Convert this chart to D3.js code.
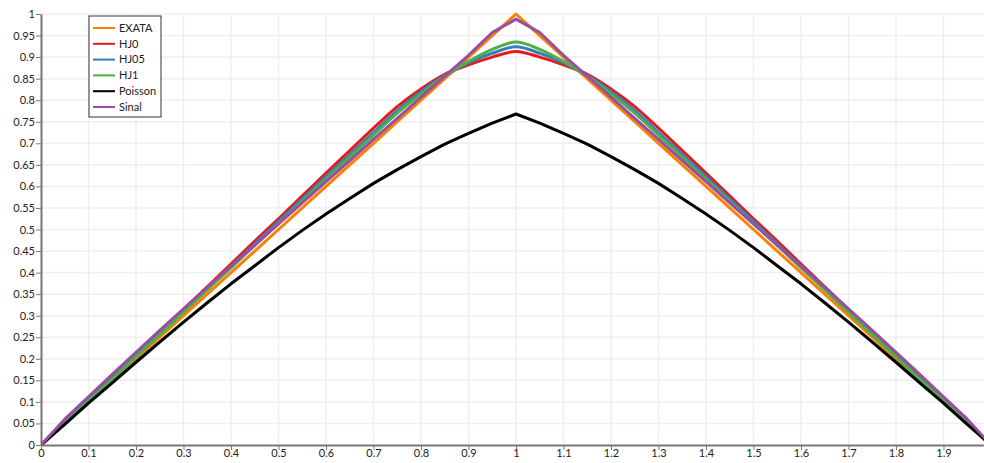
<!DOCTYPE html>
<html>
<head>
<meta charset="utf-8">
<script src="https://cdn.jsdelivr.net/npm/d3@7"></script>
<style>
  html, body { margin: 0; padding: 0; background: #fff; }
  #chart { width: 984px; height: 463px; }
  text { font-family: "Lato", "Open Sans", sans-serif; font-size: 11px; fill: #222; }
</style>
</head>
<body>
<div id="chart"></div>
<script>
// x positions of the samples
const xs = [0, 0.05, 0.1, 0.15, 0.2, 0.25, 0.3, 0.35, 0.4, 0.45, 0.5, 0.55, 0.6, 0.65, 0.7, 0.75, 0.8, 0.85, 0.9, 0.95,
            1, 1.05, 1.1, 1.15, 1.2, 1.25, 1.3, 1.35, 1.4, 1.45, 1.5, 1.55, 1.6, 1.65, 1.7, 1.75, 1.8, 1.85, 1.9, 1.95, 2];

const exata = [0, 0.05, 0.1, 0.15, 0.2, 0.25, 0.3, 0.35, 0.4, 0.45, 0.5, 0.55, 0.6, 0.65, 0.7, 0.75, 0.8, 0.85, 0.9, 0.95,
               1, 0.95, 0.9, 0.85, 0.8, 0.75, 0.7, 0.65, 0.6, 0.55, 0.5, 0.45, 0.4, 0.35, 0.3, 0.25, 0.2, 0.15, 0.1, 0.05, 0];
const hj0 = [0, 0.052, 0.104, 0.156, 0.208, 0.261, 0.314, 0.367, 0.42, 0.473, 0.525, 0.578, 0.631, 0.683, 0.735, 0.785, 0.826, 0.86, 0.882, 0.9,
             0.913, 0.9, 0.882, 0.86, 0.826, 0.785, 0.735, 0.683, 0.631, 0.578, 0.525, 0.473, 0.42, 0.367, 0.314, 0.261, 0.208, 0.156, 0.104, 0.052, 0];
const hj05 = [0, 0.051, 0.103, 0.154, 0.206, 0.258, 0.31, 0.362, 0.415, 0.467, 0.519, 0.571, 0.623, 0.674, 0.725, 0.776, 0.82, 0.857, 0.887, 0.909,
              0.924, 0.909, 0.887, 0.857, 0.82, 0.776, 0.725, 0.674, 0.623, 0.571, 0.519, 0.467, 0.415, 0.362, 0.31, 0.258, 0.206, 0.154, 0.103, 0.051, 0];
const hj1 = [0, 0.051, 0.102, 0.153, 0.205, 0.256, 0.308, 0.36, 0.411, 0.463, 0.514, 0.566, 0.617, 0.668, 0.719, 0.77, 0.815, 0.856, 0.89, 0.918,
             0.935, 0.918, 0.89, 0.856, 0.815, 0.77, 0.719, 0.668, 0.617, 0.566, 0.514, 0.463, 0.411, 0.36, 0.308, 0.256, 0.205, 0.153, 0.102, 0.051, 0];
const poisson = [0, 0.048, 0.097, 0.144, 0.192, 0.239, 0.285, 0.33, 0.374, 0.416, 0.458, 0.498, 0.536, 0.572, 0.607, 0.639, 0.669, 0.698, 0.723, 0.747,
                 0.768, 0.747, 0.723, 0.698, 0.669, 0.639, 0.607, 0.572, 0.536, 0.498, 0.458, 0.416, 0.374, 0.33, 0.285, 0.239, 0.192, 0.144, 0.097, 0.048, 0];
const sinal = [0, 0.06, 0.112, 0.164, 0.215, 0.266, 0.316, 0.366, 0.415, 0.464, 0.513, 0.562, 0.611, 0.66, 0.709, 0.758, 0.807, 0.856, 0.904, 0.957,
               0.988, 0.957, 0.904, 0.856, 0.807, 0.758, 0.709, 0.66, 0.611, 0.562, 0.513, 0.464, 0.415, 0.366, 0.316, 0.266, 0.215, 0.164, 0.112, 0.06, 0];

const seriesNames = ["EXATA", "HJ0", "HJ05", "HJ1", "Poisson", "Sinal"];
const seriesValues = [exata, hj0, hj05, hj1, poisson, sinal];
const colors = ["#ff7f00", "#e41a1c", "#377eb8", "#4daf4a", "#000000", "#984ea3"];
// HJ solutions have rounded tops, the others a sharp corner at x = 1
const smooth = [false, true, true, true, false, false];

const xTicks = d3.range(0, 20).map(i => i / 10);
const yTicks = d3.range(0, 21).map(i => i / 20);

const svgWidth = 984, svgHeight = 463;
const svg = d3.select("#chart").append("svg")
    .attr("width", svgWidth).attr("height", svgHeight);

const margin = {top: 14, left: 41, bottom: 18};
const x = d3.scaleLinear().domain([0, 2]).range([margin.left, margin.left + 950]);
const y = d3.scaleLinear().domain([0, 1]).range([svgHeight - margin.bottom, margin.top]);

// grid
svg.append("g").selectAll("line.v").data(xTicks.slice(1)).join("line")
    .attr("x1", d => x(d)).attr("x2", d => x(d))
    .attr("y1", y(0)).attr("y2", y(1))
    .attr("stroke", "#efefef").attr("stroke-width", 1.5);
svg.append("g").selectAll("line.h").data(yTicks.slice(1)).join("line")
    .attr("x1", x(0)).attr("x2", svgWidth)
    .attr("y1", d => y(d)).attr("y2", d => y(d))
    .attr("stroke", "#efefef").attr("stroke-width", 1.5);

// lines
svg.append("clipPath").attr("id", "clip")
    .append("rect").attr("x", x(0)).attr("y", 0).attr("width", svgWidth - x(0)).attr("height", y(0));

const line = d3.line().x(d => x(d[0])).y(d => y(d[1]));
const curvedLine = d3.line().x(d => x(d[0])).y(d => y(d[1])).curve(d3.curveMonotoneX);
svg.append("g").attr("clip-path", "url(#clip)")
    .selectAll("path").data(seriesValues).join("path")
    .attr("fill", "none")
    .attr("stroke", (d, i) => colors[i])
    .attr("stroke-width", 3)
    .attr("stroke-linejoin", "round")
    .attr("d", (d, i) => (smooth[i] ? curvedLine : line)(xs.map((v, j) => [v, d[j]])));

// axes
const xAxis = svg.append("g")
    .attr("transform", "translate(0," + y(0) + ")")
    .call(d3.axisBottom(x).tickValues(xTicks).tickFormat(d3.format("")).tickSize(5).tickSizeOuter(0));
const yAxis = svg.append("g")
    .attr("transform", "translate(" + x(0) + ",0)")
    .call(d3.axisLeft(y).tickValues(yTicks).tickFormat(d3.format("")).tickSize(5).tickSizeOuter(0));
[xAxis, yAxis].forEach(a => {
    a.select(".domain").attr("stroke", "#777").attr("stroke-width", 2);
    a.selectAll(".tick line").attr("stroke", "#777").attr("stroke-width", 1);
    a.selectAll(".tick text").attr("fill", "#222").style("font-size", "11px");
});
xAxis.selectAll(".tick text").attr("dy", "0.6em").attr("y", 5);
yAxis.selectAll(".tick text").attr("x", -6);

// legend
const legend = svg.append("g").attr("transform", "translate(89,16)");
legend.append("rect").attr("width", 72).attr("height", 101)
    .attr("fill", "#fff").attr("stroke", "#333").attr("stroke-width", 1);
const rows = legend.selectAll("g").data(seriesNames).join("g")
    .attr("transform", (d, i) => "translate(0," + (12 + i * 15.8) + ")");
rows.append("line").attr("x1", 4).attr("x2", 26)
    .attr("stroke", (d, i) => colors[i]).attr("stroke-width", 2);
rows.append("text").attr("x", 30).attr("dy", "0.35em").text(d => d);
</script>
</body>
</html>
